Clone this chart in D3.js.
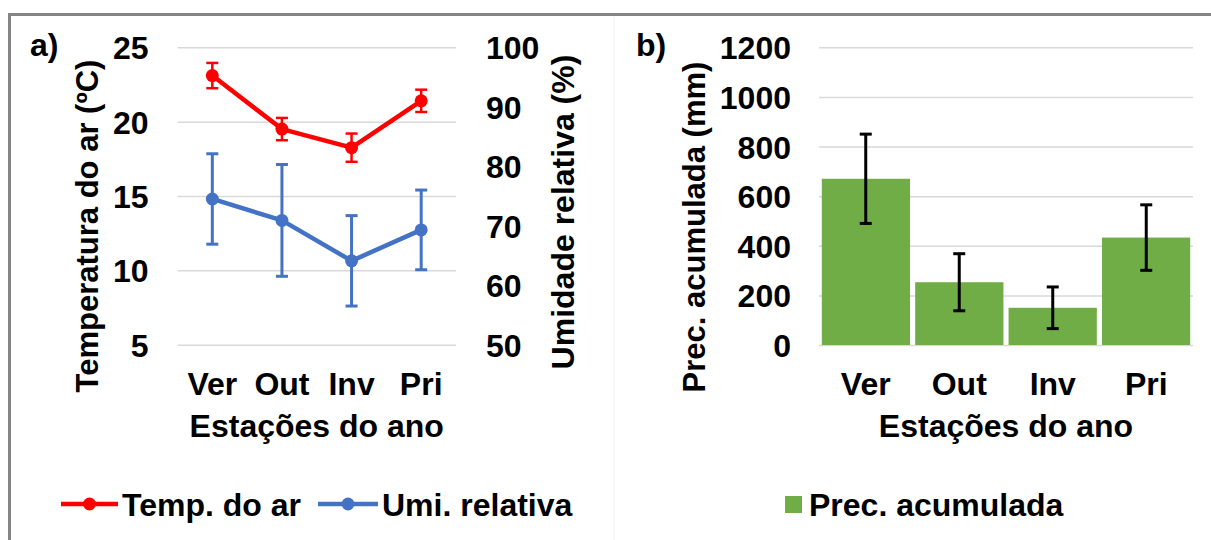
<!DOCTYPE html>
<html>
<head>
<meta charset="utf-8">
<script src="https://cdn.jsdelivr.net/npm/d3@7"></script>
<style>
  html, body { margin: 0; padding: 0; background: #fff; }
  svg text { font-family: "Liberation Sans", Arial, sans-serif; font-weight: bold; fill: #000; }
</style>
</head>
<body>
<svg id="chart" width="1211" height="540"></svg>
<script>
// Seasons of the year
const seasons = ["Ver", "Out", "Inv", "Pri"];

// Panel a: air temperature (°C) and relative humidity (%)
const tempMean = [23.1, 19.5, 18.25, 21.4];
const tempErr  = [0.85, 0.75, 0.95, 0.75];
const humMean  = [74.5, 70.9, 64.1, 69.3];
const humErr   = [7.6, 9.4, 7.6, 6.7];

// Panel b: accumulated precipitation (mm)
const precMean = [670, 253, 150, 433];
const precErr  = [180, 115, 84, 132];

// Axis ticks
const tempTicks = [5, 10, 15, 20, 25];
const humTicks  = [50, 60, 70, 80, 90, 100];
const precTicks = [0, 200, 400, 600, 800, 1000, 1200];

const RED = "#ff0000", BLUE = "#4472c4", GREEN = "#70ad47", GRID = "#d9d9d9";
const FS = 32;
const fmt = d3.format("d");

const svg = d3.select("#chart");

// frame
svg.append("line").attr("x1", 8).attr("x2", 1211).attr("y1", 14.5).attr("y2", 14.5)
  .attr("stroke", "#858585").attr("stroke-width", 3);
svg.append("line").attr("x1", 9.5).attr("x2", 9.5).attr("y1", 13).attr("y2", 540)
  .attr("stroke", "#858585").attr("stroke-width", 3);
svg.append("line").attr("x1", 614).attr("x2", 614).attr("y1", 16).attr("y2", 540)
  .attr("stroke", "#eeeeee").attr("stroke-width", 1);

// ---------- Panel a ----------
const a = { left: 177.5, right: 456, top: 47.3, bottom: 344.7 };
const xA = d3.scaleBand().domain(seasons).range([a.left, a.right]);
const yT = d3.scaleLinear().domain([5, 25]).range([a.bottom, a.top]);
const yH = d3.scaleLinear().domain([50, 100]).range([a.bottom, a.top]);

const gA = svg.append("g");
gA.append("g").attr("transform", `translate(${a.left},0)`)
  .call(d3.axisLeft(yT).tickValues(tempTicks).tickSize(-(a.right - a.left)).tickFormat(""))
  .call(g => g.select(".domain").remove())
  .call(g => g.selectAll(".tick line").attr("stroke", GRID).attr("stroke-width", 1.5));

// left tick labels
gA.append("g").attr("transform", `translate(${a.left - 29},0)`)
  .call(d3.axisLeft(yT).tickValues(tempTicks).tickFormat(fmt).tickSize(0).tickPadding(0))
  .call(g => g.select(".domain").remove())
  .call(g => g.selectAll("text").attr("font-size", FS).attr("font-family", null).attr("dy", "0.36em"));

// right tick labels
gA.append("g").attr("transform", `translate(${a.right + 30},0)`)
  .call(d3.axisRight(yH).tickValues(humTicks).tickFormat(fmt).tickSize(0).tickPadding(0))
  .call(g => g.select(".domain").remove())
  .call(g => g.selectAll("text").attr("font-size", FS).attr("font-family", null).attr("dy", "0.36em"));

// category labels
gA.append("g").attr("transform", `translate(0,${a.bottom})`)
  .call(d3.axisBottom(xA).tickSize(0).tickPadding(0))
  .call(g => g.select(".domain").remove())
  .call(g => g.selectAll("text").attr("font-size", FS).attr("font-family", null).attr("dy", 0).attr("y", 50));

gA.append("text").attr("x", (a.left + a.right) / 2).attr("y", 437).attr("text-anchor", "middle")
  .attr("font-size", FS).text("Estações do ano");
gA.append("text").attr("transform", "translate(98,226) rotate(-90)").attr("text-anchor", "middle")
  .attr("font-size", 31).text("Temperatura do ar (ºC)");
gA.append("text").attr("transform", "translate(574,212) rotate(-90)").attr("text-anchor", "middle")
  .attr("font-size", 32).text("Umidade relativa (%)");
gA.append("text").attr("x", 30).attr("y", 56).attr("font-size", FS).text("a)");

function lineSeries(g, mean, err, yScale, color, errW) {
  const cx = d => xA(d) + xA.bandwidth() / 2;
  const data = seasons.map((s, i) => ({ s, v: mean[i], e: err[i] }));
  const eb = g.append("g").attr("stroke", color).attr("stroke-width", errW);
  eb.selectAll("line.v").data(data).join("line").attr("class", "v")
    .attr("x1", d => cx(d.s)).attr("x2", d => cx(d.s))
    .attr("y1", d => yScale(d.v - d.e)).attr("y2", d => yScale(d.v + d.e));
  eb.selectAll("line.t").data(data).join("line").attr("class", "t")
    .attr("x1", d => cx(d.s) - 6).attr("x2", d => cx(d.s) + 6)
    .attr("y1", d => yScale(d.v + d.e)).attr("y2", d => yScale(d.v + d.e));
  eb.selectAll("line.b").data(data).join("line").attr("class", "b")
    .attr("x1", d => cx(d.s) - 6).attr("x2", d => cx(d.s) + 6)
    .attr("y1", d => yScale(d.v - d.e)).attr("y2", d => yScale(d.v - d.e));
  g.append("path").datum(data)
    .attr("d", d3.line().x(d => cx(d.s)).y(d => yScale(d.v)))
    .attr("fill", "none").attr("stroke", color).attr("stroke-width", 4.5).attr("stroke-linejoin", "round");
  g.selectAll("circle.m").data(data).join("circle").attr("class", "m")
    .attr("cx", d => cx(d.s)).attr("cy", d => yScale(d.v)).attr("r", 6.5).attr("fill", color);
}
lineSeries(gA.append("g"), humMean, humErr, yH, BLUE, 3);
lineSeries(gA.append("g"), tempMean, tempErr, yT, RED, 2.5);

// legend a
function lineKey(g, x0, x1, y, color, label) {
  g.append("line").attr("x1", x0).attr("x2", x1).attr("y1", y).attr("y2", y)
    .attr("stroke", color).attr("stroke-width", 4.5);
  g.append("circle").attr("cx", (x0 + x1) / 2).attr("cy", y).attr("r", 6.5).attr("fill", color);
  g.append("text").attr("x", x1 + 4).attr("y", y + 12).attr("font-size", FS).text(label);
}
const legA = svg.append("g");
lineKey(legA, 61, 118, 504, RED, "Temp. do ar");
lineKey(legA, 318, 378, 504, BLUE, "Umi. relativa");

// ---------- Panel b ----------
const b = { left: 819, right: 1193, top: 47.3, bottom: 345 };
const xB = d3.scaleBand().domain(seasons).range([b.left, b.right]).paddingInner(0.055).paddingOuter(0.03);
const yP = d3.scaleLinear().domain([0, 1200]).range([b.bottom, b.top]);

const gB = svg.append("g");
gB.append("g").attr("transform", `translate(${b.left},0)`)
  .call(d3.axisLeft(yP).tickValues(precTicks).tickSize(-(b.right - b.left)).tickFormat(""))
  .call(g => g.select(".domain").remove())
  .call(g => g.selectAll(".tick line").attr("stroke", GRID).attr("stroke-width", 1.5));

gB.append("g").attr("transform", `translate(791,0)`)
  .call(d3.axisLeft(yP).tickValues(precTicks).tickFormat(fmt).tickSize(0).tickPadding(0))
  .call(g => g.select(".domain").remove())
  .call(g => g.selectAll("text").attr("font-size", FS).attr("font-family", null).attr("dy", "0.36em"));

const xBc = d3.scaleBand().domain(seasons).range([b.left, b.right]);
gB.append("g").attr("transform", `translate(0,${b.bottom})`)
  .call(d3.axisBottom(xBc).tickSize(0).tickPadding(0))
  .call(g => g.select(".domain").remove())
  .call(g => g.selectAll("text").attr("font-size", FS).attr("font-family", null).attr("dy", 0).attr("y", 50));

const bd = seasons.map((s, i) => ({ s, v: precMean[i], e: precErr[i] }));
gB.selectAll("rect.bar").data(bd)
  .join("rect").attr("class", "bar")
  .attr("x", d => xB(d.s)).attr("width", xB.bandwidth())
  .attr("y", d => yP(d.v)).attr("height", d => yP(0) - yP(d.v))
  .attr("fill", GREEN);

const ebB = gB.append("g").attr("stroke", "#000").attr("stroke-width", 3);
const bcx = d => xBc(d) + xBc.bandwidth() / 2;
ebB.selectAll("line.v").data(bd).join("line").attr("class", "v")
  .attr("x1", d => bcx(d.s)).attr("x2", d => bcx(d.s))
  .attr("y1", d => yP(d.v - d.e)).attr("y2", d => yP(d.v + d.e));
ebB.selectAll("line.t").data(bd).join("line").attr("class", "t")
  .attr("x1", d => bcx(d.s) - 6).attr("x2", d => bcx(d.s) + 6)
  .attr("y1", d => yP(d.v + d.e)).attr("y2", d => yP(d.v + d.e));
ebB.selectAll("line.b").data(bd).join("line").attr("class", "b")
  .attr("x1", d => bcx(d.s) - 6).attr("x2", d => bcx(d.s) + 6)
  .attr("y1", d => yP(d.v - d.e)).attr("y2", d => yP(d.v - d.e));

gB.append("text").attr("x", (b.left + b.right) / 2).attr("y", 437).attr("text-anchor", "middle")
  .attr("font-size", FS).text("Estações do ano");
gB.append("text").attr("transform", "translate(705,227) rotate(-90)").attr("text-anchor", "middle")
  .attr("font-size", 31).text("Prec. acumulada (mm)");
gB.append("text").attr("x", 636).attr("y", 56).attr("font-size", FS).text("b)");

// legend b
svg.append("rect").attr("x", 785).attr("y", 496).attr("width", 17).attr("height", 17).attr("fill", GREEN);
svg.append("text").attr("x", 809).attr("y", 516).attr("font-size", FS).text("Prec. acumulada");
</script>
</body>
</html>
